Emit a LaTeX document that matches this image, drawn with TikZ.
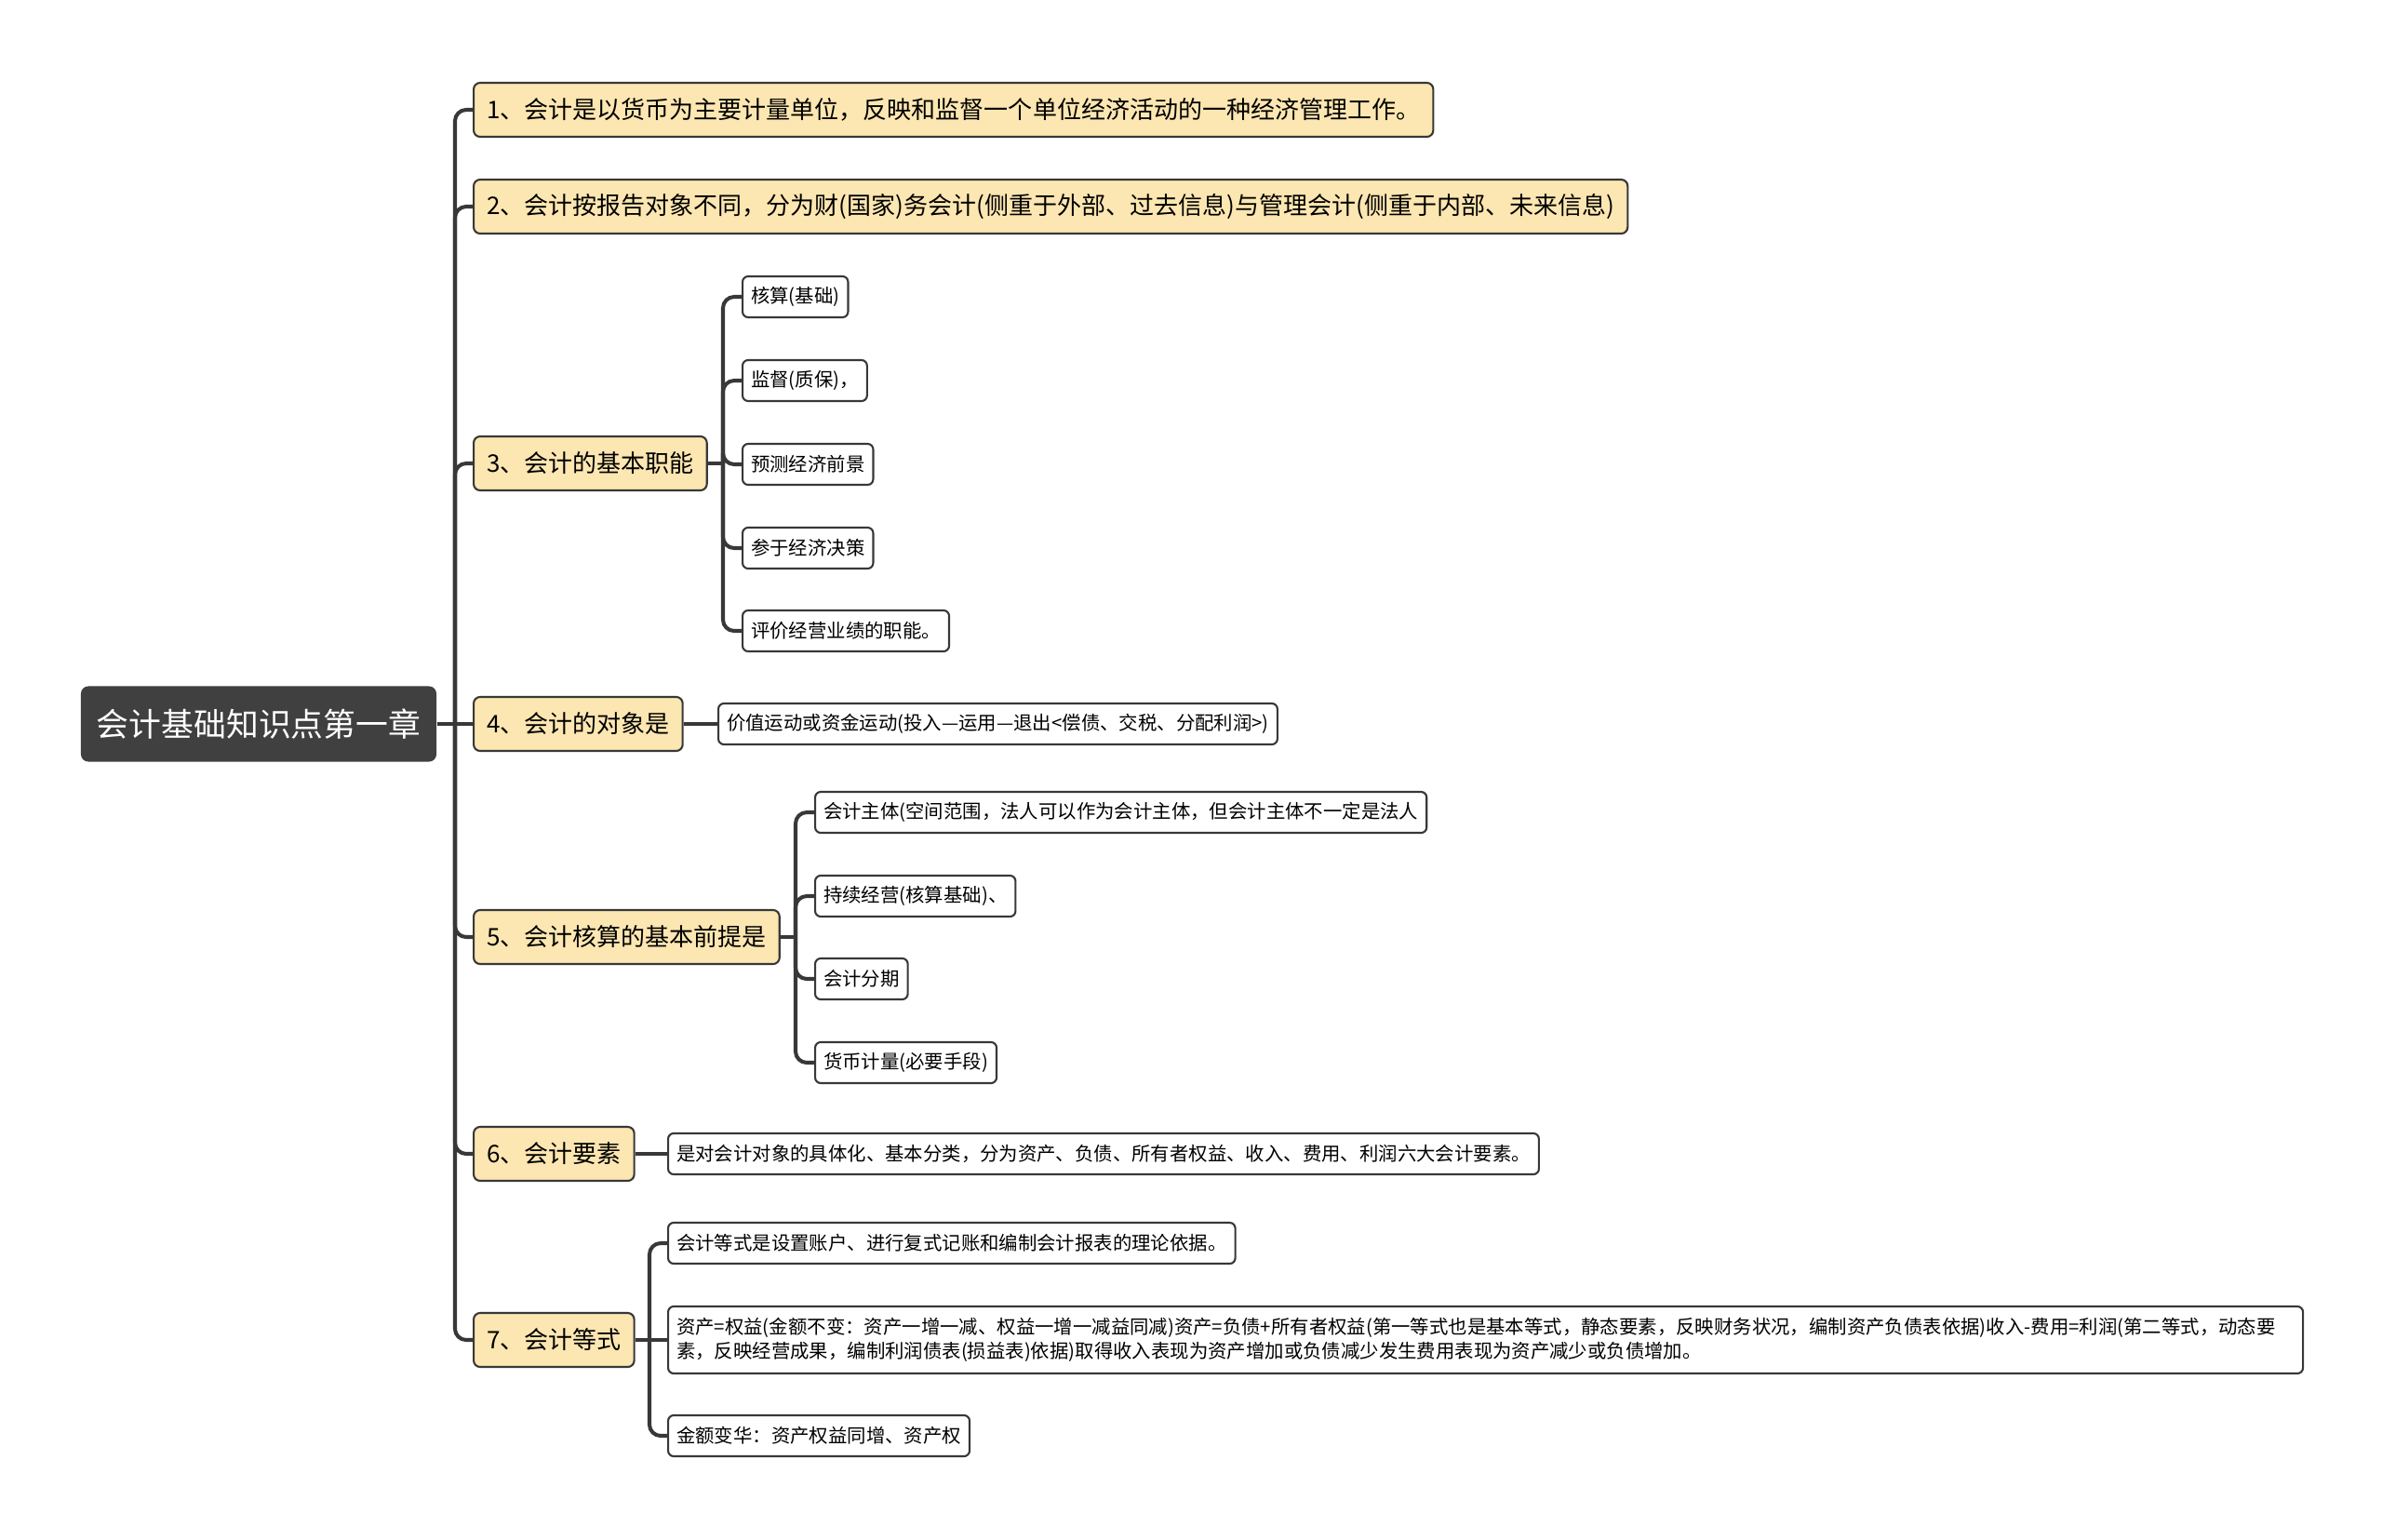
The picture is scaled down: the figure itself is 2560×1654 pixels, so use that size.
\documentclass[tikz,border=0pt]{standalone}
\usepackage{fontspec}
\setmainfont{Noto Sans CJK SC}
\usepackage{xcolor}
\usetikzlibrary{positioning}

\definecolor{rootgray}{HTML}{404040}
\definecolor{topicyellow}{HTML}{FCE6B1}
\definecolor{linegray}{HTML}{383838}

\begin{document}
\begin{tikzpicture}[
    x=0.01cm, y=-0.01cm,
    root/.style={
        rectangle,
        fill=rootgray,
        text=white,
        rounded corners=0.08cm,
        minimum height=0.81cm,
        inner xsep=0.17cm,
        inner ysep=0pt,
        font=\fontsize{9.9pt}{12pt}\selectfont
    },
    topic/.style={
        rectangle,
        draw=linegray,
        fill=topicyellow,
        line width=0.6pt,
        rounded corners=0.07cm,
        minimum height=0.58cm,
        inner xsep=0.14cm,
        inner ysep=0pt,
        anchor=west,
        font=\fontsize{7.4pt}{9pt}\selectfont
    },
    leaf/.style={
        rectangle,
        draw=linegray,
        fill=white,
        line width=0.6pt,
        rounded corners=0.06cm,
        minimum height=0.44cm,
        inner xsep=0.09cm,
        inner ysep=0pt,
        anchor=west,
        font=\fontsize{5.8pt}{7.4pt}\selectfont
    },
    link/.style={draw=linegray, line width=1.15pt, rounded corners=0.12cm}
]
\useasboundingbox (0,0) rectangle (2560,1654);

\node (root) [root] at (278,778) {会计基础知识点第一章};

\node (t1) [topic] at (508,118) {1、会计是以货币为主要计量单位，反映和监督一个单位经济活动的一种经济管理工作。};
\node (t2) [topic] at (508,222) {2、会计按报告对象不同，分为财(国家)务会计(侧重于外部、过去信息)与管理会计(侧重于内部、未来信息)};
\node (t3) [topic] at (508,498) {3、会计的基本职能};
\node (t4) [topic] at (508,778) {4、会计的对象是};
\node (t5) [topic] at (508,1007) {5、会计核算的基本前提是};
\node (t6) [topic] at (508,1240) {6、会计要素};
\node (t7) [topic] at (508,1440) {7、会计等式};

% functions
\node (f1) [leaf] at (797,319) {核算(基础)};
\node (f2) [leaf] at (797,409) {监督(质保)，};
\node (f3) [leaf] at (797,499) {预测经济前景};
\node (f4) [leaf] at (797,589) {参于经济决策};
\node (f5) [leaf] at (797,678) {评价经营业绩的职能。};

% object
\node (o1) [leaf] at (771,778) {价值运动或资金运动(投入—运用—退出<偿债、交税、分配利润>)};

% premises
\node (p1) [leaf] at (875,873) {会计主体(空间范围，法人可以作为会计主体，但会计主体不一定是法人};
\node (p2) [leaf] at (875,963) {持续经营(核算基础)、};
\node (p3) [leaf] at (875,1052) {会计分期};
\node (p4) [leaf] at (875,1142) {货币计量(必要手段)};

% elements
\node (e1) [leaf] at (717,1240) {是对会计对象的具体化、基本分类，分为资产、负债、所有者权益、收入、费用、利润六大会计要素。};

% equation
\node (q1) [leaf] at (717,1336) {会计等式是设置账户、进行复式记账和编制会计报表的理论依据。};
\node (q2) [leaf, text width=17.38cm, align=left, minimum height=0.72cm] at (717,1440) {资产=权益(金额不变：资产一增一减、权益一增一减益同减)资产=负债+所有者权益(第一等式也是基本等式，静态要素，反映财务状况，编制资产负债表依据)收入-费用=利润(第二等式，动态要\\素，反映经营成果，编制利润债表(损益表)依据)取得收入表现为资产增加或负债减少发生费用表现为资产减少或负债增加。};
\node (q3) [leaf] at (717,1543) {金额变华：资产权益同增、资产权};

\coordinate (trunk) at (489,778);
\coordinate (j3) at (777,498);
\coordinate (j5) at (855,1007);
\coordinate (j7) at (698,1440);

\draw [link] (root) -- (trunk);
\draw [link] (trunk) |- (t1.west);
\draw [link] (trunk) |- (t2.west);
\draw [link] (trunk) |- (t3.west);
\draw [link] (trunk) -- (t4.west);
\draw [link] (trunk) |- (t5.west);
\draw [link] (trunk) |- (t6.west);
\draw [link] (trunk) |- (t7.west);

\draw [link] (t3) -- (j3);
\draw [link] (j3) |- (f1.west);
\draw [link] (j3) |- (f2.west);
\draw [link] (j3) |- (f3.west);
\draw [link] (j3) |- (f4.west);
\draw [link] (j3) |- (f5.west);

\draw [link] (t4) -- (o1);

\draw [link] (t5) -- (j5);
\draw [link] (j5) |- (p1.west);
\draw [link] (j5) |- (p2.west);
\draw [link] (j5) |- (p3.west);
\draw [link] (j5) |- (p4.west);

\draw [link] (t6) -- (e1);

\draw [link] (t7) -- (j7);
\draw [link] (j7) |- (q1.west);
\draw [link] (j7) -- (q2.west);
\draw [link] (j7) |- (q3.west);

\end{tikzpicture}
\end{document}
